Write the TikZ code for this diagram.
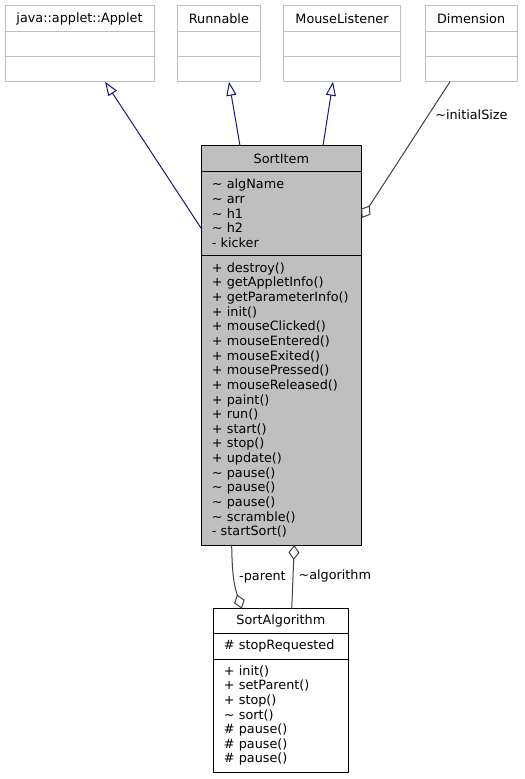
\documentclass[tikz,border=0pt]{standalone}
\usepackage{fontspec}
\setmainfont{DejaVu Sans}
\usetikzlibrary{arrows.meta}
\definecolor{midnight}{HTML}{191970}
\definecolor{grey75}{HTML}{BFBFBF}
\definecolor{grey25}{HTML}{404040}
\tikzset{
  part/.style={rectangle,anchor=north west,outer sep=0pt,inner sep=0pt,line width=1bp},
  iface/.style={part,draw=grey75},
  cls/.style={part,draw=black,fill=grey75},
  plain/.style={part,draw=black,fill=white},
  members/.style={align=left,text width=#1},
  inherit/.style={color=midnight,line width=1bp,-{Triangle[open,length=14bp,width=10bp]}},
  usage/.style={color=grey25,line width=1bp,-{Diamond[open,length=15bp,width=11bp]}},
  rolename/.style={inner sep=0pt,text=black}
}

\begin{document}
\begin{tikzpicture}[line cap=round,line join=round,x=1bp,y=-1bp,font=\fontsize{12.8bp}{14.65bp}\selectfont]
\useasboundingbox (0,0) rectangle (525,779);
\foreach \nm/\x/\w/\ttl in {applet/5/149/java::applet::Applet,runnable/177.7/82.3/Runnable,mouse/283.7/116.6/MouseListener,dimension/425/92.3/Dimension}
{
\node[iface,minimum width=\w bp,minimum height=26bp] (\nm) at (\x,5.7) {\ttl};
\node[iface,minimum width=\w bp,minimum height=25bp] (\nm-attr) at (\x,31.7) {};
\node[iface,minimum width=\w bp,minimum height=25bp] (\nm-ops) at (\x,56.7) {};
}
\node[cls,minimum width=160.7bp,minimum height=26bp] (sortitem) at (201,145.7) {SortItem};
\node[cls,members=139bp,minimum width=160.7bp,minimum height=83.3bp] (sortitem-attr) at (201,171.7)
{\textasciitilde{} algName\\\textasciitilde{} arr\\\textasciitilde{} h1\\\textasciitilde{} h2\\- kicker};
\node[cls,members=139bp,minimum width=160.7bp,minimum height=290bp] (sortitem-ops) at (201,255)
{+ destroy()\\+ getAppletInfo()\\+ getParameterInfo()\\+ init()\\+ mouseClicked()\\+ mouseEntered()\\+ mouseExited()\\+ mousePressed()\\+ mouseReleased()\\+ paint()\\+ run()\\+ start()\\+ stop()\\+ update()\\\textasciitilde{} pause()\\\textasciitilde{} pause()\\\textasciitilde{} pause()\\\textasciitilde{} scramble()\\- startSort()};
\node[plain,minimum width=135.7bp,minimum height=24.6bp] (algo) at (213,608.7) {SortAlgorithm};
\node[plain,members=114bp,minimum width=135.7bp,minimum height=25.7bp] (algo-attr) at (213,633.3) {\# stopRequested};
\node[plain,members=114bp,minimum width=135.7bp,minimum height=113bp] (algo-ops) at (213,659)
{+ init()\\+ setParent()\\+ stop()\\\textasciitilde{} sort()\\\# pause()\\\# pause()\\\# pause()};
\draw[inherit] ([yshift=-14.65bp]sortitem-attr.west) -- ([xshift=25.5bp]applet-ops.south);
\draw[inherit] ([xshift=-41.35bp]sortitem.north) -- ([xshift=10.15bp]runnable-ops.south);
\draw[inherit] ([xshift=41.65bp]sortitem.north) -- ([xshift=-9bp]mouse-ops.south);
\draw[usage] ([xshift=-21.15bp]dimension-ops.south) -- node[rolename,pos=0.24,right=6bp] (initialsize) {\textasciitilde initialSize} ([yshift=-4.65bp]sortitem-attr.east);
\draw[usage] ([xshift=-49.65bp]sortitem-ops.south) .. controls (232,578) and (235,588) .. ([xshift=-39.15bp]algo.north) node[rolename,pos=0.43,right=5bp] (parentrole) {-parent};
\draw[usage] ([xshift=10.85bp]algo.north) -- node[rolename,pos=0.51,right=5bp] (algorithmrole) {\textasciitilde algorithm} ([xshift=12.95bp]sortitem-ops.south);
\end{tikzpicture}
\end{document}
